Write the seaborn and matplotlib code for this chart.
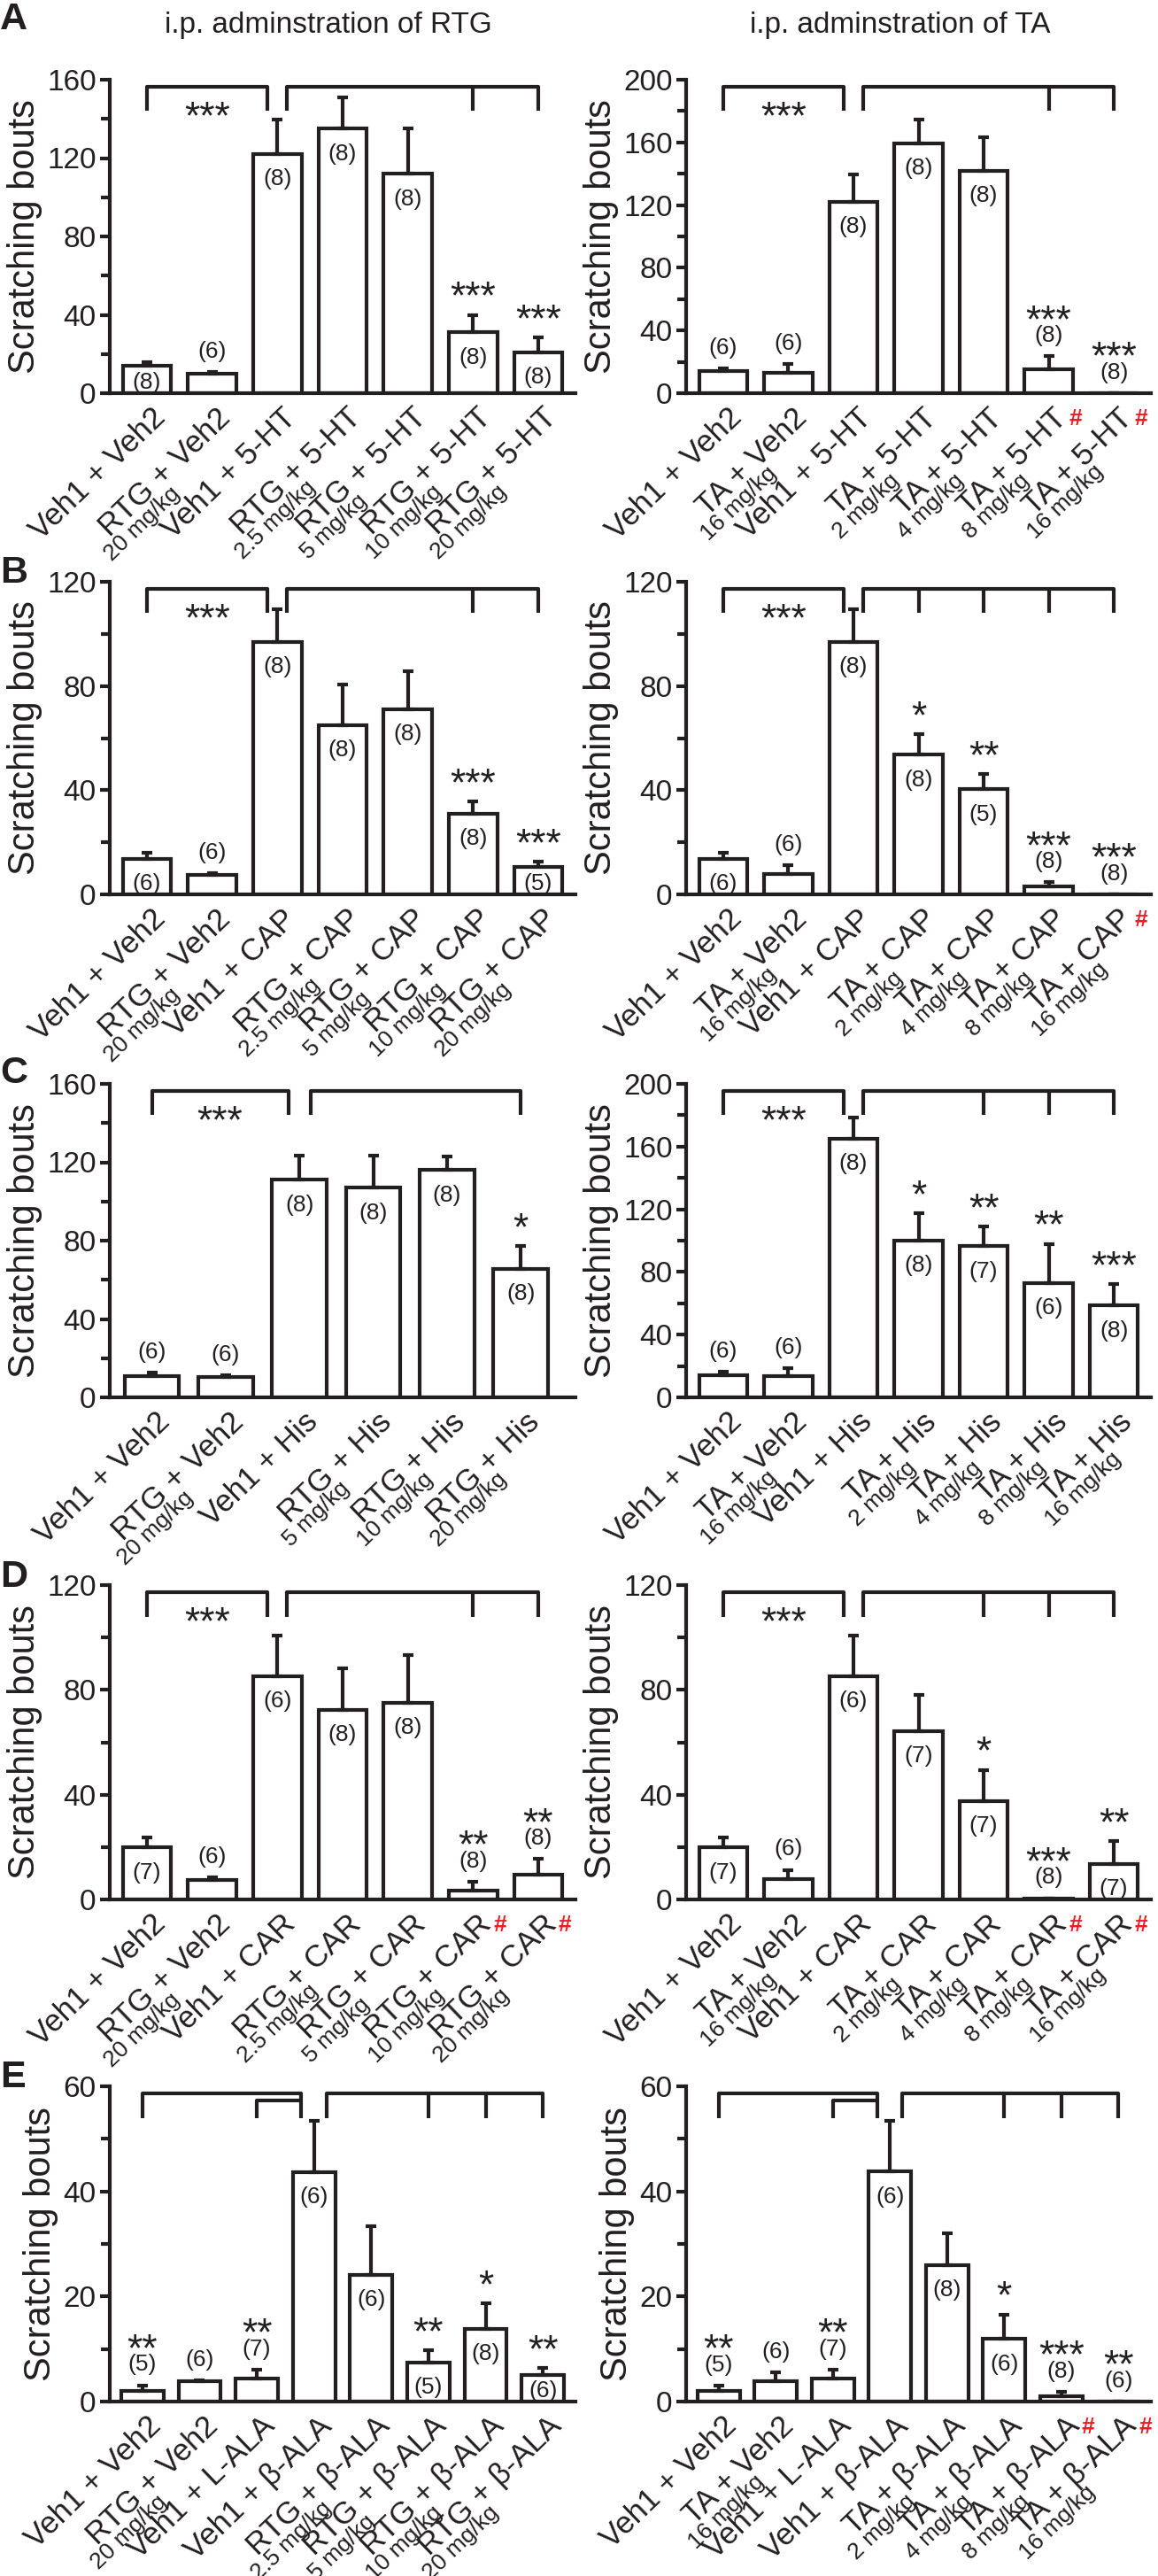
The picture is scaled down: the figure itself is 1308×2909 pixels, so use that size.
import matplotlib
matplotlib.use('Agg')
import matplotlib.pyplot as plt
import numpy as np
import pandas as pd
import seaborn as sns

# ---------------------------------------------------------------
# data (mean, SEM, n, significance)
# ---------------------------------------------------------------

# A: 5-HT
a_rtg_labels = ['Veh1 + Veh2', 'RTG + Veh2', 'Veh1 + 5-HT', 'RTG + 5-HT', 'RTG + 5-HT', 'RTG + 5-HT', 'RTG + 5-HT']
a_rtg_doses = ['', '20 mg/kg', '', '2.5 mg/kg', '5 mg/kg', '10 mg/kg', '20 mg/kg']
a_rtg_mean = [14, 10, 122, 135, 112, 31, 21]
a_rtg_sem = [2, 1, 17.5, 16, 23, 9, 7.3]
a_rtg_n = [8, 6, 8, 8, 8, 8, 8]
a_rtg_sig = ['', '', '', '', '', '***', '***']
a_rtg_hash = [0, 0, 0, 0, 0, 0, 0]

a_ta_labels = ['Veh1 + Veh2', 'TA + Veh2', 'Veh1 + 5-HT', 'TA + 5-HT', 'TA + 5-HT', 'TA + 5-HT', 'TA + 5-HT']
a_ta_doses = ['', '16 mg/kg', '', '2 mg/kg', '4 mg/kg', '8 mg/kg', '16 mg/kg']
a_ta_mean = [14, 13.2, 122, 159.5, 142, 15.5, 0]
a_ta_sem = [2, 5.6, 17.8, 15, 21.5, 8, 0]
a_ta_n = [6, 6, 8, 8, 8, 8, 8]
a_ta_sig = ['', '', '', '', '', '***', '***']
a_ta_hash = [0, 0, 0, 0, 0, 1, 1]

# B: CAP
b_rtg_labels = ['Veh1 + Veh2', 'RTG + Veh2', 'Veh1 + CAP', 'RTG + CAP', 'RTG + CAP', 'RTG + CAP', 'RTG + CAP']
b_rtg_doses = ['', '20 mg/kg', '', '2.5 mg/kg', '5 mg/kg', '10 mg/kg', '20 mg/kg']
b_rtg_mean = [13.6, 7.5, 97, 65, 71, 31, 10.7]
b_rtg_sem = [2.4, 0.8, 12.4, 15.6, 14.7, 4.7, 2]
b_rtg_n = [6, 6, 8, 8, 8, 8, 5]
b_rtg_sig = ['', '', '', '', '', '***', '***']
b_rtg_hash = [0, 0, 0, 0, 0, 0, 0]

b_ta_labels = ['Veh1 + Veh2', 'TA + Veh2', 'Veh1 + CAP', 'TA + CAP', 'TA + CAP', 'TA + CAP', 'TA + CAP']
b_ta_doses = ['', '16 mg/kg', '', '2 mg/kg', '4 mg/kg', '8 mg/kg', '16 mg/kg']
b_ta_mean = [13.5, 7.9, 97, 53.6, 40.3, 3, 0]
b_ta_sem = [2.5, 3.3, 12.3, 7.8, 6, 1.7, 0]
b_ta_n = [6, 6, 8, 8, 5, 8, 8]
b_ta_sig = ['', '', '', '*', '**', '***', '***']
b_ta_hash = [0, 0, 0, 0, 0, 0, 1]

# C: His
c_rtg_labels = ['Veh1 + Veh2', 'RTG + Veh2', 'Veh1 + His', 'RTG + His', 'RTG + His', 'RTG + His']
c_rtg_doses = ['', '20 mg/kg', '', '5 mg/kg', '10 mg/kg', '20 mg/kg']
c_rtg_mean = [10.9, 10.5, 111, 107, 116, 65.7]
c_rtg_sem = [1.6, 1, 12.2, 16.5, 7, 11.7]
c_rtg_n = [6, 6, 8, 8, 8, 8]
c_rtg_sig = ['', '', '', '', '', '*']
c_rtg_hash = [0, 0, 0, 0, 0, 0]

c_ta_labels = ['Veh1 + Veh2', 'TA + Veh2', 'Veh1 + His', 'TA + His', 'TA + His', 'TA + His', 'TA + His']
c_ta_doses = ['', '16 mg/kg', '', '2 mg/kg', '4 mg/kg', '8 mg/kg', '16 mg/kg']
c_ta_mean = [14.2, 13.5, 165, 100, 96.5, 73, 58.5]
c_ta_sem = [2, 5.2, 13.8, 17.5, 12.7, 25, 13.8]
c_ta_n = [6, 6, 8, 8, 7, 6, 8]
c_ta_sig = ['', '', '', '*', '**', '**', '***']
c_ta_hash = [0, 0, 0, 0, 0, 0, 0]

# D: CAR
d_rtg_labels = ['Veh1 + Veh2', 'RTG + Veh2', 'Veh1 + CAR', 'RTG + CAR', 'RTG + CAR', 'RTG + CAR', 'RTG + CAR']
d_rtg_doses = ['', '20 mg/kg', '', '2.5 mg/kg', '5 mg/kg', '10 mg/kg', '20 mg/kg']
d_rtg_mean = [19.8, 7.6, 85.2, 72.4, 75.1, 3.5, 9.5]
d_rtg_sem = [4, 0.9, 15.4, 15.7, 18.3, 3.3, 5.9]
d_rtg_n = [7, 6, 6, 8, 8, 8, 8]
d_rtg_sig = ['', '', '', '', '', '**', '**']
d_rtg_hash = [0, 0, 0, 0, 0, 1, 1]

d_ta_labels = ['Veh1 + Veh2', 'TA + Veh2', 'Veh1 + CAR', 'TA + CAR', 'TA + CAR', 'TA + CAR', 'TA + CAR']
d_ta_doses = ['', '16 mg/kg', '', '2 mg/kg', '4 mg/kg', '8 mg/kg', '16 mg/kg']
d_ta_mean = [19.8, 7.9, 85.2, 64.3, 37.6, 0.5, 13.5]
d_ta_sem = [4, 3.4, 15.4, 13.7, 11.9, 0, 8.8]
d_ta_n = [7, 6, 6, 7, 7, 8, 7]
d_ta_sig = ['', '', '', '', '*', '***', '**']
d_ta_hash = [0, 0, 0, 0, 0, 1, 1]

# E: beta-alanine
e_rtg_labels = ['Veh1 + Veh2', 'RTG + Veh2', 'Veh1 + L-ALA', 'Veh1 + β-ALA', 'RTG + β-ALA',
                'RTG + β-ALA', 'RTG + β-ALA', 'RTG + β-ALA']
e_rtg_doses = ['', '20 mg/kg', '', '', '2.5 mg/kg', '5 mg/kg', '10 mg/kg', '20 mg/kg']
e_rtg_mean = [2.1, 3.8, 4.4, 43.7, 24.1, 7.5, 13.9, 5]
e_rtg_sem = [1, 0.3, 1.7, 9.7, 9.2, 2.2, 4.8, 1.4]
e_rtg_n = [5, 6, 7, 6, 6, 5, 8, 6]
e_rtg_sig = ['**', '', '**', '', '', '**', '*', '**']
e_rtg_hash = [0, 0, 0, 0, 0, 0, 0, 0]

e_ta_labels = ['Veh1 + Veh2', 'TA + Veh2', 'Veh1 + L-ALA', 'Veh1 + β-ALA', 'TA + β-ALA',
               'TA + β-ALA', 'TA + β-ALA', 'TA + β-ALA']
e_ta_doses = ['', '16 mg/kg', '', '', '2 mg/kg', '4 mg/kg', '8 mg/kg', '16 mg/kg']
e_ta_mean = [2, 3.8, 4.3, 43.8, 26, 11.9, 1, 0]
e_ta_sem = [1, 1.7, 1.7, 9.7, 6, 4.7, 0.8, 0]
e_ta_n = [5, 6, 7, 6, 8, 6, 8, 6]
e_ta_sig = ['**', '', '**', '', '', '*', '***', '**']
e_ta_hash = [0, 0, 0, 0, 0, 0, 1, 1]

# comparison brackets: bars that get their own tick on the right bracket
a_rtg_ticks, a_ta_ticks = [5, 6], [5, 6]
b_rtg_ticks, b_ta_ticks = [5, 6], [3, 4, 5, 6]
c_rtg_ticks, c_ta_ticks = [5], [4, 5, 6]
d_rtg_ticks, d_ta_ticks = [5, 6], [4, 5, 6]
e_rtg_ticks, e_ta_ticks = [5, 6, 7], [5, 6, 7]

titles = ['i.p. adminstration of RTG', 'i.p. adminstration of TA']
panel_letters = ['A', 'B', 'C', 'D', 'E']

# ---------------------------------------------------------------
# style
# ---------------------------------------------------------------
sns.set_theme(style='ticks')
INK = '#231f20'
RED = '#ed1c24'
plt.rcParams['font.family'] = ['Liberation Sans', 'DejaVu Sans']
plt.rcParams.update({'text.color': INK, 'axes.edgecolor': INK, 'xtick.color': INK,
                     'ytick.color': INK, 'axes.labelcolor': INK})

LW = 3.0
ROT = 44


def draw_panel(ax, labels, doses, mean, sem, n, sig, hashes, ymax, ystep, ticks,
               ctrl=2, gap=0.15, left_stars='***', inner=None, right_pad=0.57):
    mean = np.asarray(mean, float)
    sem = np.asarray(sem, float)
    groups = [f'{l} {d}' for l, d in zip(labels, doses)]
    df = pd.DataFrame({'group': groups, 'mean': mean})
    sns.barplot(data=df, x='group', y='mean', order=groups, color='white', saturation=1,
                edgecolor=INK, linewidth=LW, width=0.74, errorbar=None, ax=ax, zorder=2)
    x = np.arange(len(mean))
    ax.errorbar(x, mean, yerr=[np.zeros_like(sem), sem], fmt='none', ecolor=INK,
                elinewidth=LW, capsize=4, capthick=LW, zorder=3)

    ax.set_xlim(-0.57, len(mean) - 1 + right_pad)
    ax.set_ylim(0, ymax)
    ax.set_yticks(np.arange(0, ymax + 1, ystep))
    ax.set_yticks(np.arange(ystep / 2, ymax, ystep), minor=True)
    ax.tick_params(axis='y', which='major', length=8, width=LW, labelsize=24, pad=3)
    ax.tick_params(axis='y', which='minor', length=7, width=LW)
    ax.tick_params(axis='x', length=0, labelbottom=False)
    ax.set_xlabel('')
    ax.set_ylabel('Scratching bouts', fontsize=30, labelpad=4)
    sns.despine(ax=ax)
    for s in ['left', 'bottom']:
        ax.spines[s].set_linewidth(LW)

    # n and significance above the bars
    for i in x:
        top = mean[i] + sem[i]
        if mean[i] >= 0.08 * ymax:
            ny = max(mean[i] - 0.08 * ymax, 0.035 * ymax)
            sy = top + 0.09 * ymax
        else:
            ny = top + 0.065 * ymax
            sy = ny + 0.083 * ymax
        ax.text(i, ny, f'({n[i]})', ha='center', va='center', fontsize=19, zorder=4)
        if sig[i]:
            ax.annotate(sig[i], xy=(i, sy), xytext=(0, -18), textcoords='offset points',
                        ha='center', va='baseline', fontsize=32)

    # x labels: group + dose underneath, both slanted
    for i in x:
        main = ax.annotate(labels[i], xy=(i, 0), xycoords=('data', 'axes fraction'),
                           xytext=(3, -8), textcoords='offset points', rotation=ROT,
                           ha='right', va='top', rotation_mode='anchor', fontsize=25)
        if doses[i]:
            ax.annotate(doses[i], xy=(0, 0), xycoords=main, xytext=(5, -6),
                        textcoords='offset points', rotation=ROT, ha='left', va='top',
                        rotation_mode='anchor', fontsize=19)
        if hashes[i]:
            ax.annotate('#', xy=(1, 1), xycoords=main, xytext=(-3, -4),
                        textcoords='offset points', ha='left', va='top', color=RED,
                        fontsize=19, fontweight='bold')

    # comparison brackets
    top_y, leg_y = 0.978 * ymax, 0.9 * ymax
    last = len(mean) - 1
    kw = dict(color=INK, lw=LW, clip_on=False, solid_capstyle='butt', zorder=5)
    x1 = ctrl - gap
    ax.plot([0, 0, x1, x1], [leg_y, top_y, top_y, leg_y], **kw)
    xs = ctrl + gap
    ax.plot([xs, xs, last, last], [leg_y, top_y, top_y, leg_y], **kw)
    for t in ticks:
        if t != last:
            ax.plot([t, t], [top_y, leg_y], **kw)
    if inner is not None:
        in_y = 0.955 * ymax
        ax.plot([inner, inner, x1], [leg_y, in_y, in_y], **kw)
    if left_stars:
        ax.annotate(left_stars, xy=(x1 / 2, 0.915 * ymax), xytext=(0, -18),
                    textcoords='offset points', ha='center', va='baseline', fontsize=32)


fig = plt.figure(figsize=(13.08, 29.09), dpi=100)
H = 2909.0
bottoms = [444, 1010, 1578, 2145, 2712]
tops = [90, 657, 1224, 1790, 2356]
letter_base = [33, 658, 1223, 1792, 2357]

rows = [
    (dict(labels=a_rtg_labels, doses=a_rtg_doses, mean=a_rtg_mean, sem=a_rtg_sem, n=a_rtg_n,
          sig=a_rtg_sig, hashes=a_rtg_hash, ymax=160, ystep=40, ticks=a_rtg_ticks),
     dict(labels=a_ta_labels, doses=a_ta_doses, mean=a_ta_mean, sem=a_ta_sem, n=a_ta_n,
          sig=a_ta_sig, hashes=a_ta_hash, ymax=200, ystep=40, ticks=a_ta_ticks)),
    (dict(labels=b_rtg_labels, doses=b_rtg_doses, mean=b_rtg_mean, sem=b_rtg_sem, n=b_rtg_n,
          sig=b_rtg_sig, hashes=b_rtg_hash, ymax=120, ystep=40, ticks=b_rtg_ticks),
     dict(labels=b_ta_labels, doses=b_ta_doses, mean=b_ta_mean, sem=b_ta_sem, n=b_ta_n,
          sig=b_ta_sig, hashes=b_ta_hash, ymax=120, ystep=40, ticks=b_ta_ticks)),
    (dict(labels=c_rtg_labels, doses=c_rtg_doses, mean=c_rtg_mean, sem=c_rtg_sem, n=c_rtg_n,
          sig=c_rtg_sig, hashes=c_rtg_hash, ymax=160, ystep=40, ticks=c_rtg_ticks, right_pad=0.74),
     dict(labels=c_ta_labels, doses=c_ta_doses, mean=c_ta_mean, sem=c_ta_sem, n=c_ta_n,
          sig=c_ta_sig, hashes=c_ta_hash, ymax=200, ystep=40, ticks=c_ta_ticks)),
    (dict(labels=d_rtg_labels, doses=d_rtg_doses, mean=d_rtg_mean, sem=d_rtg_sem, n=d_rtg_n,
          sig=d_rtg_sig, hashes=d_rtg_hash, ymax=120, ystep=40, ticks=d_rtg_ticks),
     dict(labels=d_ta_labels, doses=d_ta_doses, mean=d_ta_mean, sem=d_ta_sem, n=d_ta_n,
          sig=d_ta_sig, hashes=d_ta_hash, ymax=120, ystep=40, ticks=d_ta_ticks)),
    (dict(labels=e_rtg_labels, doses=e_rtg_doses, mean=e_rtg_mean, sem=e_rtg_sem, n=e_rtg_n,
          sig=e_rtg_sig, hashes=e_rtg_hash, ymax=60, ystep=20, ticks=e_rtg_ticks,
          ctrl=3, gap=0.22, left_stars='', inner=2),
     dict(labels=e_ta_labels, doses=e_ta_doses, mean=e_ta_mean, sem=e_ta_sem, n=e_ta_n,
          sig=e_ta_sig, hashes=e_ta_hash, ymax=60, ystep=20, ticks=e_ta_ticks,
          ctrl=3, gap=0.22, left_stars='', inner=2)),
]

for r, (left_kw, right_kw) in enumerate(rows):
    b = 1 - bottoms[r] / H
    h = (bottoms[r] - tops[r]) / H
    ax_l = fig.add_axes([124 / 1308, b, 526 / 1308, h])
    ax_r = fig.add_axes([775 / 1308, b, 525 / 1308, h])
    draw_panel(ax_l, **left_kw)
    draw_panel(ax_r, **right_kw)
    fig.text(0.0, 1 - letter_base[r] / H, panel_letters[r], fontsize=31, fontweight='bold',
             ha='left', va='baseline')

fig.text(371 / 1308, 1 - 37 / H, titles[0], fontsize=24, ha='center', va='baseline')
fig.text(1017 / 1308, 1 - 37 / H, titles[1], fontsize=24, ha='center', va='baseline')

fig.savefig('out.png', dpi=100, facecolor='white')
